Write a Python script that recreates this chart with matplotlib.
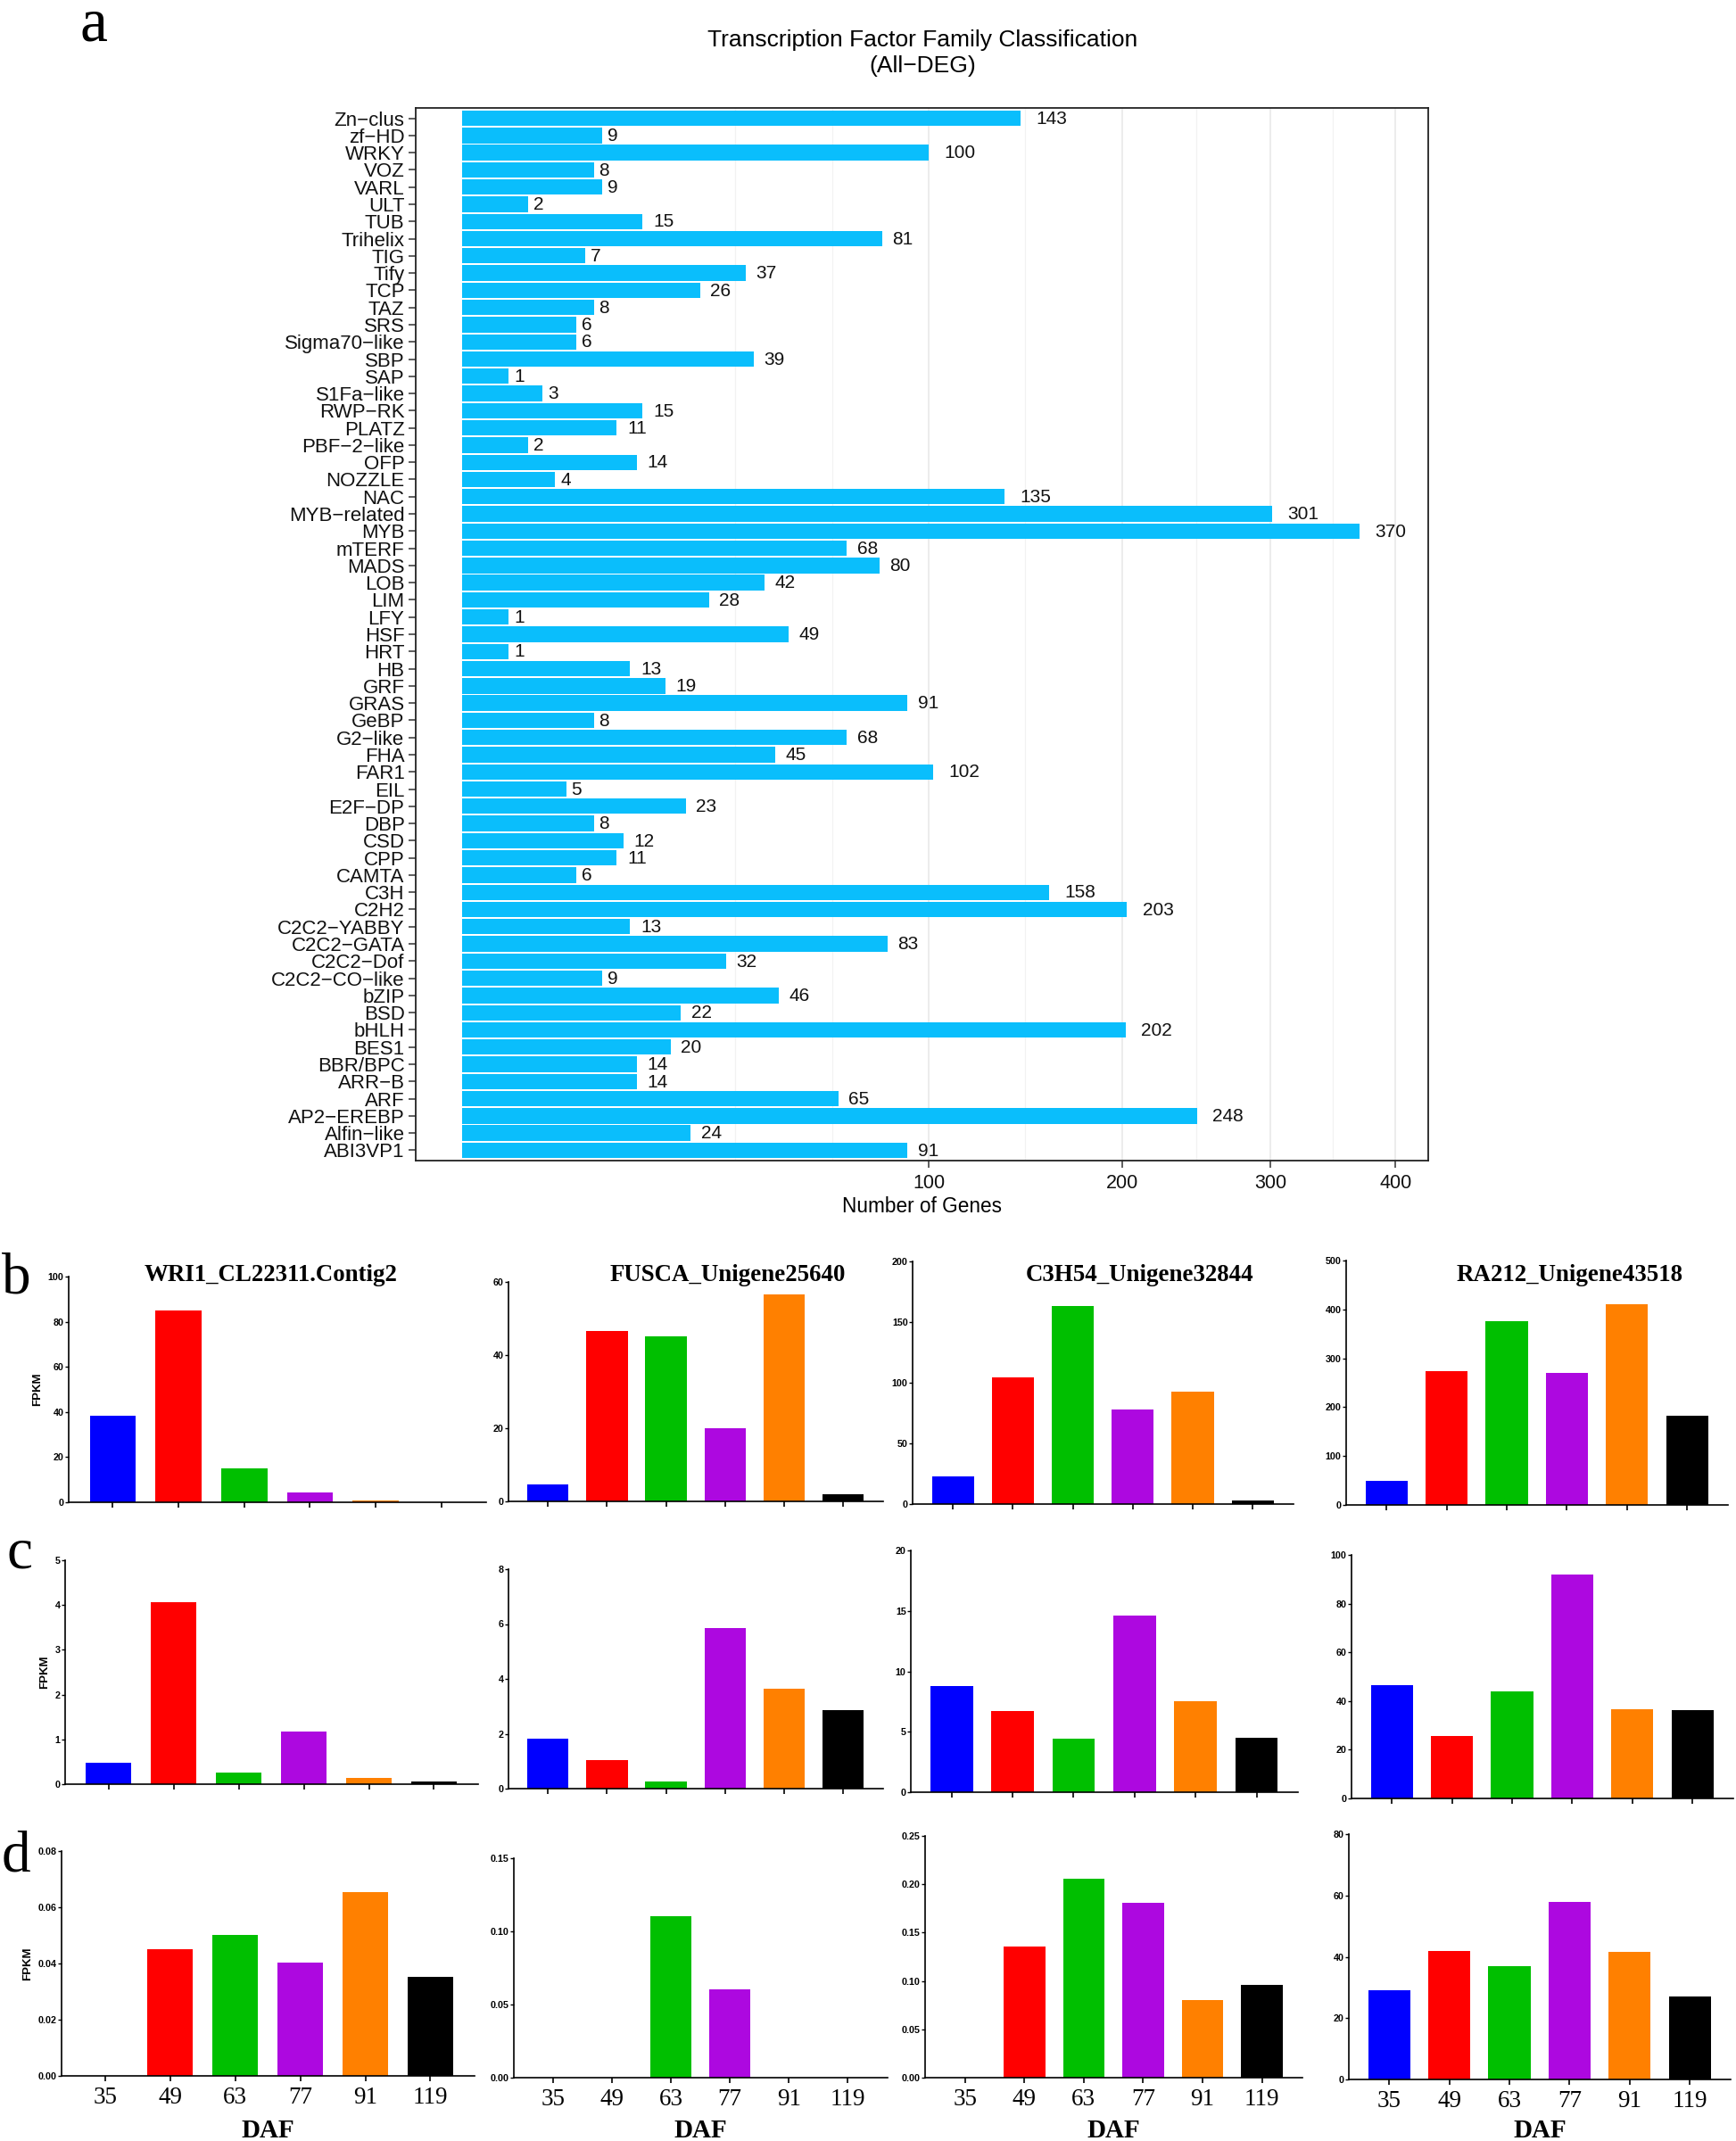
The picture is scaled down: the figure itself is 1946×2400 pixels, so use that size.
import numpy as np
import matplotlib
matplotlib.use("Agg")
import matplotlib.pyplot as plt

# ---- panel a: transcription factor families ----
families = ["Zn−clus", "zf−HD", "WRKY", "VOZ", "VARL", "ULT", "TUB", "Trihelix",
            "TIG", "Tify", "TCP", "TAZ", "SRS", "Sigma70−like", "SBP", "SAP",
            "S1Fa−like", "RWP−RK", "PLATZ", "PBF−2−like", "OFP", "NOZZLE", "NAC",
            "MYB−related", "MYB", "mTERF", "MADS", "LOB", "LIM", "LFY", "HSF",
            "HRT", "HB", "GRF", "GRAS", "GeBP", "G2−like", "FHA", "FAR1", "EIL",
            "E2F−DP", "DBP", "CSD", "CPP", "CAMTA", "C3H", "C2H2", "C2C2−YABBY",
            "C2C2−GATA", "C2C2−Dof", "C2C2−CO−like", "bZIP", "BSD", "bHLH",
            "BES1", "BBR/BPC", "ARR−B", "ARF", "AP2−EREBP", "Alfin−like", "ABI3VP1"]
gene_counts = [143, 9, 100, 8, 9, 2, 15, 81, 7, 37, 26, 8, 6, 6, 39, 1, 3, 15, 11,
               2, 14, 4, 135, 301, 370, 68, 80, 42, 28, 1, 49, 1, 13, 19, 91, 8, 68,
               45, 102, 5, 23, 8, 12, 11, 6, 158, 203, 13, 83, 32, 9, 46, 22, 202,
               20, 14, 14, 65, 248, 24, 91]
count_ticks = [100, 200, 300, 400]

# ---- panels b-d: FPKM per DAF ----
daf = ["35", "49", "63", "77", "91", "119"]
genes = ["WRI1_CL22311.Contig2", "FUSCA_Unigene25640",
         "C3H54_Unigene32844", "RA212_Unigene43518"]
fpkm_b = [[38.2, 85.1, 15.0, 4.2, 0.66, 0.0],
          [4.6, 46.5, 45.1, 20.0, 56.5, 2.0],
          [23.1, 104.2, 163.4, 77.6, 92.4, 2.7],
          [49.9, 273.0, 376.5, 270.7, 410.6, 182.5]]
fpkm_c = [[0.47, 4.06, 0.25, 1.17, 0.14, 0.066],
          [1.81, 1.05, 0.25, 5.86, 3.65, 2.85],
          [8.8, 6.7, 4.4, 14.6, 7.5, 4.5],
          [46.4, 25.6, 44.1, 92.1, 36.7, 36.4]]
fpkm_d = [[0.0, 0.0452, 0.0503, 0.0402, 0.0653, 0.0353],
          [0.0, 0.0, 0.1105, 0.0603, 0.0, 0.0],
          [0.0, 0.1356, 0.206, 0.181, 0.0805, 0.096],
          [29.1, 41.8, 36.9, 57.9, 41.6, 27.1]]
yticks_b = [[0, 20, 40, 60, 80, 100], [0, 20, 40, 60],
            [0, 50, 100, 150, 200], [0, 100, 200, 300, 400, 500]]
yticks_c = [[0, 1, 2, 3, 4, 5], [0, 2, 4, 6, 8],
            [0, 5, 10, 15, 20], [0, 20, 40, 60, 80, 100]]
yticks_d = [[0.0, 0.02, 0.04, 0.06, 0.08], [0.0, 0.05, 0.10, 0.15],
            [0.0, 0.05, 0.10, 0.15, 0.20, 0.25], [0, 20, 40, 60, 80]]

bar_colors = ["#0000FF", "#FF0000", "#00BF00", "#AD08E0", "#FF8000", "#000000"]

SANS = ["Liberation Sans", "DejaVu Sans"]
SERIF = ["Liberation Serif", "DejaVu Serif"]

W, H = 1946, 2400
fig = plt.figure(figsize=(W / 100, H / 100), dpi=100)


def box(l, r, t, b):
    return [l / W, 1 - b / H, (r - l) / W, (b - t) / H]


def ftext(x, y, s, **kw):
    fig.text(x / W, 1 - y / H, s, **kw)


# ------------------ panel a ------------------
ax = fig.add_axes(box(466, 1601, 121, 1301))
fwd = lambda x: np.sign(x) * np.sqrt(np.abs(x))
inv = lambda x: np.sign(x) * x ** 2
ax.set_xscale("function", functions=(fwd, inv))
ypos = np.arange(len(families))
ax.barh(ypos, gene_counts, height=0.9, color="#0ABEFC", edgecolor="none", zorder=2)
for i, v in enumerate(gene_counts):
    s = str(v)
    ax.annotate(s, xy=(v, i), xytext=(0.5 * len(s) * 0.556 * 15, -0.5),
                textcoords="offset points", ha="left", va="center",
                fontsize=15, family=SANS, color="#111111")
ax.set_xlim(-0.99 ** 2, 20.7 ** 2)
ax.set_ylim(len(families) - 0.4, -0.6)
ax.set_yticks(ypos)
ax.set_yticklabels(families, family=SANS, fontsize=16)
ax.set_xticks(count_ticks)
ax.set_xticklabels([str(t) for t in count_ticks], family=SANS, fontsize=15.5)
# ggplot-style minor breaks: midpoints in sqrt space, extended one step below
sq = np.sqrt(count_ticks)
ext = np.concatenate([[sq[0] - (sq[1] - sq[0])], sq])
minors = list(ext[:1]) + list((ext[:-1] + ext[1:]) / 2)
ax.set_xticks([m ** 2 for m in minors], minor=True)
ax.grid(which="major", axis="x", color="#EBEBEB", lw=1.3, zorder=0)
ax.grid(which="minor", axis="x", color="#F2F2F2", lw=0.9, zorder=0)
ax.set_axisbelow(True)
ax.tick_params(which="minor", length=0)
ax.tick_params(axis="x", which="major", length=6, width=1.1, color="#333333",
               pad=5, labelcolor="#111111")
ax.tick_params(axis="y", which="major", length=6, width=1.1, color="#333333",
               pad=3, labelcolor="#111111")
for sp in ax.spines.values():
    sp.set_linewidth(1.3)
    sp.set_color("#222222")
ax.set_xlabel("Number of Genes", family=SANS, fontsize=16.3, labelpad=3)
ftext(1034, 45, "Transcription Factor Family Classification", family=SANS,
      fontsize=19, ha="center", va="center")
ftext(1034, 74, "(All−DEG)", family=SANS, fontsize=19, ha="center", va="center")

# ------------------ panels b-d ------------------
layout = [
    [(77, 545, 1431, 1684), (570, 990, 1437, 1683), (1023, 1450, 1414, 1686), (1509, 1937, 1413, 1687)],
    [(73, 536, 1749, 2000), (570, 990, 1759, 2005), (1021, 1455, 1738, 2009), (1515, 1943, 1743, 2016)],
    [(69, 532, 2075, 2327), (576, 995, 2083, 2329), (1037, 1460, 2058, 2329), (1512, 1940, 2056, 2331)],
]
title_x = [304, 816, 1278, 1760]
rows = [(fpkm_b, yticks_b), (fpkm_c, yticks_c), (fpkm_d, yticks_d)]
xi = np.arange(len(daf))

for r, (vals, yts) in enumerate(rows):
    for c in range(4):
        l, rr, t, b = layout[r][c]
        a = fig.add_axes(box(l, rr, t, b))
        a.bar(xi, vals[c], width=0.7, color=bar_colors, edgecolor="none")
        a.set_xlim(-0.67, 5.68)
        yt = yts[c]
        a.set_ylim(0, yt[-1])
        a.set_yticks(yt)
        if isinstance(yt[-1], float):
            a.set_yticklabels(["%.2f" % v for v in yt])
        else:
            a.set_yticklabels([str(v) for v in yt])
        for lab in a.get_yticklabels():
            lab.set_family(SANS)
            lab.set_fontweight("bold")
            lab.set_fontsize(7.7)
        a.set_xticks(xi)
        if r == 2:
            a.set_xticklabels(daf, family=SERIF, fontsize=19.5)
        else:
            a.set_xticklabels([])
        a.spines["top"].set_visible(False)
        a.spines["right"].set_visible(False)
        a.spines["left"].set_linewidth(1.2)
        a.spines["bottom"].set_linewidth(1.2)
        a.spines["bottom"].set_zorder(5)
        a.tick_params(axis="y", length=2.8, width=1.0, pad=1)
        a.tick_params(axis="x", length=4, width=1.2, pad=5)
        if c == 0:
            a.set_ylabel("FPKM", family=SANS, fontweight="bold", fontsize=9.5,
                         labelpad=4)
        if r == 0:
            ftext(title_x[c], 1430, genes[c], family=SERIF, fontweight="bold",
                  fontsize=19.4, ha="center", va="center")
        if r == 2:
            ftext((l + rr) / 2, 2396, "DAF", family=SERIF, fontweight="bold",
                  fontsize=21, ha="center", va="baseline")

# panel letters
ftext(105, 46, "a", family=SERIF, fontsize=50, ha="center", va="baseline")
ftext(18, 1450, "b", family=SERIF, fontsize=47, ha="center", va="baseline")
ftext(22, 1758, "c", family=SERIF, fontsize=47, ha="center", va="baseline")
ftext(18, 2097, "d", family=SERIF, fontsize=47, ha="center", va="baseline")

fig.savefig("out.png", dpi=100, facecolor="white")
